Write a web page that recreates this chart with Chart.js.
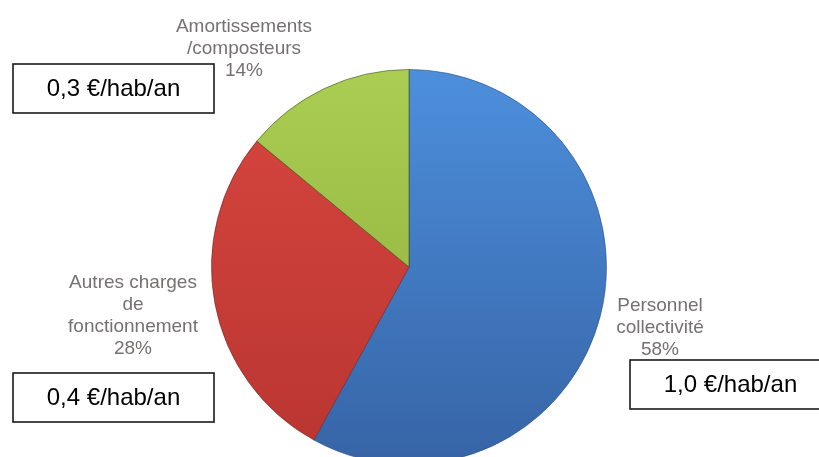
<!DOCTYPE html>
<html>
<head>
<meta charset="utf-8">
<script src="https://cdn.jsdelivr.net/npm/chart.js@4/dist/chart.umd.min.js"></script>
<style>
  html, body { margin: 0; padding: 0; background: #ffffff; overflow: hidden; }
  #wrap { position: relative; width: 819px; height: 470px; }
</style>
</head>
<body>
<div id="wrap"><canvas id="pie" width="819" height="470"></canvas></div>
<script>
// Répartition des coûts (en %)
const categories = ['Personnel collectivité', 'Autres charges de fonctionnement', 'Amortissements /composteurs'];
const shares = [58, 28, 14];
const costPerInhabitant = ['1,0 €/hab/an', '0,4 €/hab/an', '0,3 €/hab/an'];

// Lignes des étiquettes de catégorie (texte affiché)
const labelLines = [
  ['Personnel', 'collectivité'],
  ['Autres charges', 'de', 'fonctionnement'],
  ['Amortissements', '/composteurs']
];

// Couleurs des secteurs : [haut, bas, contour]
const sliceColors = [
  ['#4d8fdc', '#3664a6', 'rgba(35,70,120,0.55)'],
  ['#d8463f', '#b93531', 'rgba(110,30,30,0.55)'],
  ['#aacd52', '#8cad3c', 'rgba(60,85,25,0.6)']
];

// Placement des étiquettes (centre x, ligne de base de la 1re ligne)
const labelPlacement = [
  { x: 660, y: 311 },
  { x: 133, y: 288 },
  { x: 244, y: 32 }
];
// Encadrés €/hab/an (coin haut-gauche, taille)
const boxPlacement = [
  { x: 630, y: 360, w: 201, h: 49 },
  { x: 13, y: 373, w: 201, h: 49 },
  { x: 13, y: 64, w: 201, h: 49 }
];

function sliceFill(ctx) {
  const c = sliceColors[ctx.dataIndex];
  const area = ctx.chart.chartArea;
  if (!area) return c[0];
  const g = ctx.chart.ctx.createLinearGradient(0, area.top, 0, area.bottom);
  g.addColorStop(0, c[0]);
  g.addColorStop(1, c[1]);
  return g;
}

const annotations = {
  id: 'annotations',
  afterDraw(chart) {
    const ctx = chart.ctx;
    ctx.save();
    // étiquettes de catégorie + pourcentage
    ctx.font = '19px "Liberation Sans", Arial, sans-serif';
    ctx.fillStyle = '#767171';
    ctx.textAlign = 'center';
    ctx.textBaseline = 'alphabetic';
    const lineH = 22;
    labelLines.forEach((lines, i) => {
      const p = labelPlacement[i];
      const all = lines.concat([shares[i] + '%']);
      all.forEach((t, k) => ctx.fillText(t, p.x, p.y + k * lineH));
    });
    // encadrés
    ctx.font = '24px "Liberation Sans", Arial, sans-serif';
    ctx.textBaseline = 'middle';
    costPerInhabitant.forEach((t, i) => {
      const b = boxPlacement[i];
      ctx.fillStyle = '#ffffff';
      ctx.fillRect(b.x, b.y, b.w, b.h);
      ctx.strokeStyle = '#1a1a1a';
      ctx.lineWidth = 1.6;
      ctx.strokeRect(b.x, b.y, b.w, b.h);
      ctx.fillStyle = '#000000';
      ctx.fillText(t, b.x + b.w / 2, b.y + b.h / 2 + 1);
    });
    ctx.restore();
  }
};

new Chart(document.getElementById('pie'), {
  type: 'pie',
  data: {
    labels: categories,
    datasets: [{
      data: shares,
      backgroundColor: sliceFill,
      borderColor: sliceColors.map(c => c[2]),
      borderWidth: 1,
      hoverOffset: 0
    }]
  },
  options: {
    responsive: false,
    animation: false,
    rotation: 0,
    layout: { padding: { left: 211, right: 212, top: 69, bottom: 5 } },
    plugins: {
      legend: { display: false },
      tooltip: { enabled: false }
    }
  },
  plugins: [annotations]
});
</script>
</body>
</html>
